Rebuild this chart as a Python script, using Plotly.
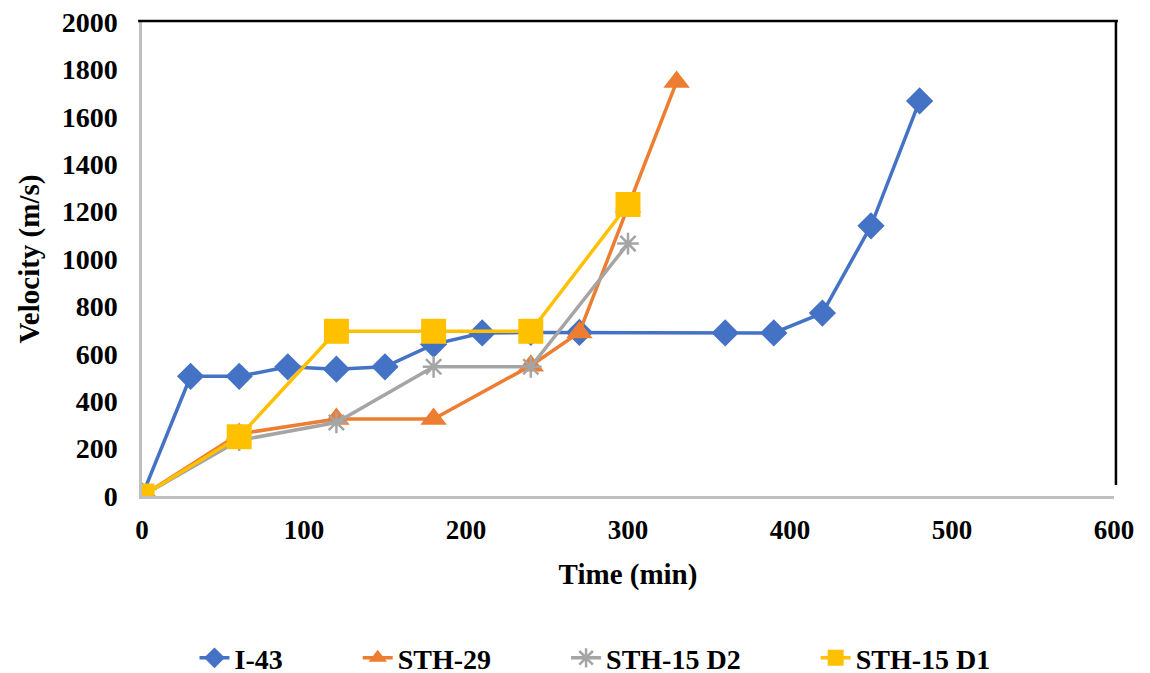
import plotly.graph_objects as go

i43_x = [0, 30, 60, 90, 120, 150, 180, 210, 240, 270, 360, 390, 420, 450, 480]
i43_y = [0, 505, 505, 545, 535, 545, 640, 688, 690, 690, 688, 688, 772, 1140, 1667]

sth29_x = [0, 60, 120, 180, 240, 270, 300, 330]
sth29_y = [0, 262, 325, 325, 550, 690, 1220, 1747]

sth15d2_x = [0, 60, 120, 180, 240, 300]
sth15d2_y = [0, 235, 310, 545, 545, 1065]

sth15d1_x = [0, 60, 120, 180, 240, 300]
sth15d1_y = [0, 250, 695, 695, 695, 1230]

series_names = ["I-43", "STH-29", "STH-15 D2", "STH-15 D1"]

font_family = "Liberation Serif"
pad = "\u00a0" * 10


def label(name):
    return "<b>" + name + "</b>" + pad


fig = go.Figure()
fig.add_trace(go.Scatter(x=i43_x, y=i43_y, name=label(series_names[0]), mode="lines+markers",
                         line=dict(color="#4472C4", width=3.5),
                         marker=dict(symbol="diamond", size=21, color="#4472C4")))
fig.add_trace(go.Scatter(x=sth29_x, y=sth29_y, name=label(series_names[1]), mode="lines+markers",
                         line=dict(color="#ED7D31", width=3.5),
                         marker=dict(symbol="triangle-up", size=23, color="#ED7D31")))
fig.add_trace(go.Scatter(x=sth15d2_x, y=sth15d2_y, name=label(series_names[2]), mode="lines+markers",
                         line=dict(color="#A5A5A5", width=3.5),
                         marker=dict(symbol="asterisk-open", size=18,
                                     line=dict(color="#A5A5A5", width=2.5))))
fig.add_trace(go.Scatter(x=sth15d1_x, y=sth15d1_y, name="<b>" + series_names[3] + "</b>",
                         mode="lines+markers",
                         line=dict(color="#FFC000", width=3.5),
                         marker=dict(symbol="square", size=25, color="#FFC000")))

# page body has an 8px margin: offsets compensate so the plot area lands at 142..1114 x 22..496
fig.update_layout(
    width=1150, height=685,
    margin=dict(l=134, r=44, t=14, b=197, autoexpand=False),
    paper_bgcolor="white", plot_bgcolor="white",
    font=dict(family=font_family, size=26, color="black"),
    showlegend=True,
    legend=dict(orientation="h", x=0.054, xanchor="left", y=-0.342, yanchor="middle",
                font=dict(family=font_family, size=28, color="black"),
                tracegroupgap=0),
    xaxis=dict(range=[0, 600], dtick=100, showgrid=False, zeroline=False,
               showline=True, linecolor="#BFBFBF", linewidth=2.5,
               ticks="", tickfont=dict(family=font_family, size=27, color="black", weight="bold"),
               ticklabelstandoff=8, ticklabeloverflow="allow",
               title=dict(text="<b>Time (min)</b>", font=dict(family=font_family, size=29),
                          standoff=20)),
    yaxis=dict(range=[0, 2000], dtick=200, showgrid=False, zeroline=False,
               showline=True, linecolor="#BFBFBF", linewidth=2.5,
               ticks="", tickfont=dict(family=font_family, size=28, color="black", weight="bold"),
               ticklabelstandoff=16, ticklabeloverflow="allow",
               title=dict(text="<b>Velocity (m/s)</b>", font=dict(family=font_family, size=29),
                          standoff=14)),
    shapes=[
        dict(type="line", xref="paper", yref="paper", x0=-0.004, x1=1.004, y0=1.002, y1=1.002,
             line=dict(color="black", width=2.5)),
        dict(type="line", xref="paper", yref="paper", x0=1.002, x1=1.002, y0=1.002, y1=0.023,
             line=dict(color="black", width=2.5)),
    ],
)

fig.write_html("out.html")
